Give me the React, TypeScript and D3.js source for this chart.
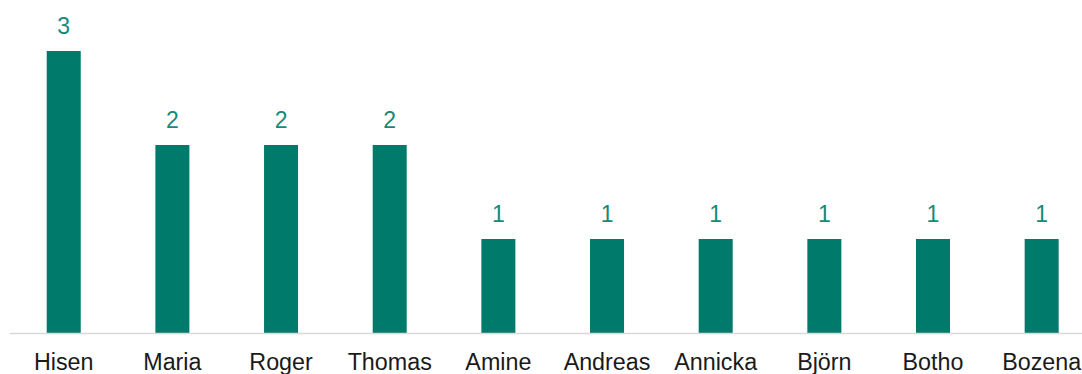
import React from "react";
import * as d3 from "d3";

const categories = ["Hisen", "Maria", "Roger", "Thomas", "Amine", "Andreas", "Annicka", "Björn", "Botho", "Bozena"];
const values = [3, 2, 2, 2, 1, 1, 1, 1, 1, 1];

const W = 1082;
const H = 374;

export default function App() {
  const x = d3
    .scaleBand<string>()
    .domain(categories)
    .range([9.4, 1096])
    .paddingInner(0.687)
    .paddingOuter(0.3435);
  const y = d3.scaleLinear().domain([0, 3]).range([333, 51]);
  const font = "Arial, 'Liberation Sans', sans-serif";
  return (
    <svg
      width={W}
      height={H}
      style={{ position: "absolute", left: 0, top: 0 }}
      fontFamily={font}
    >
      {categories.map((c, i) => (
        <g key={c}>
          <rect
            x={x(c)!}
            y={y(values[i])}
            width={x.bandwidth()}
            height={y(0) - y(values[i])}
            fill="#007b6b"
          />
          <text
            x={x(c)! + x.bandwidth() / 2}
            y={y(values[i]) - 17}
            textAnchor="middle"
            fontSize={23}
            fill="#138a7a"
          >
            {values[i]}
          </text>
          <text
            x={x(c)! + x.bandwidth() / 2}
            y={369.5}
            textAnchor="middle"
            fontSize={23.3}
            fill="#1a1a1a"
          >
            {c}
          </text>
        </g>
      ))}
      <line x1={10} x2={W} y1={y(0) + 0.5} y2={y(0) + 0.5} stroke="#d9d9d9" strokeWidth={1.5} />
    </svg>
  );
}
